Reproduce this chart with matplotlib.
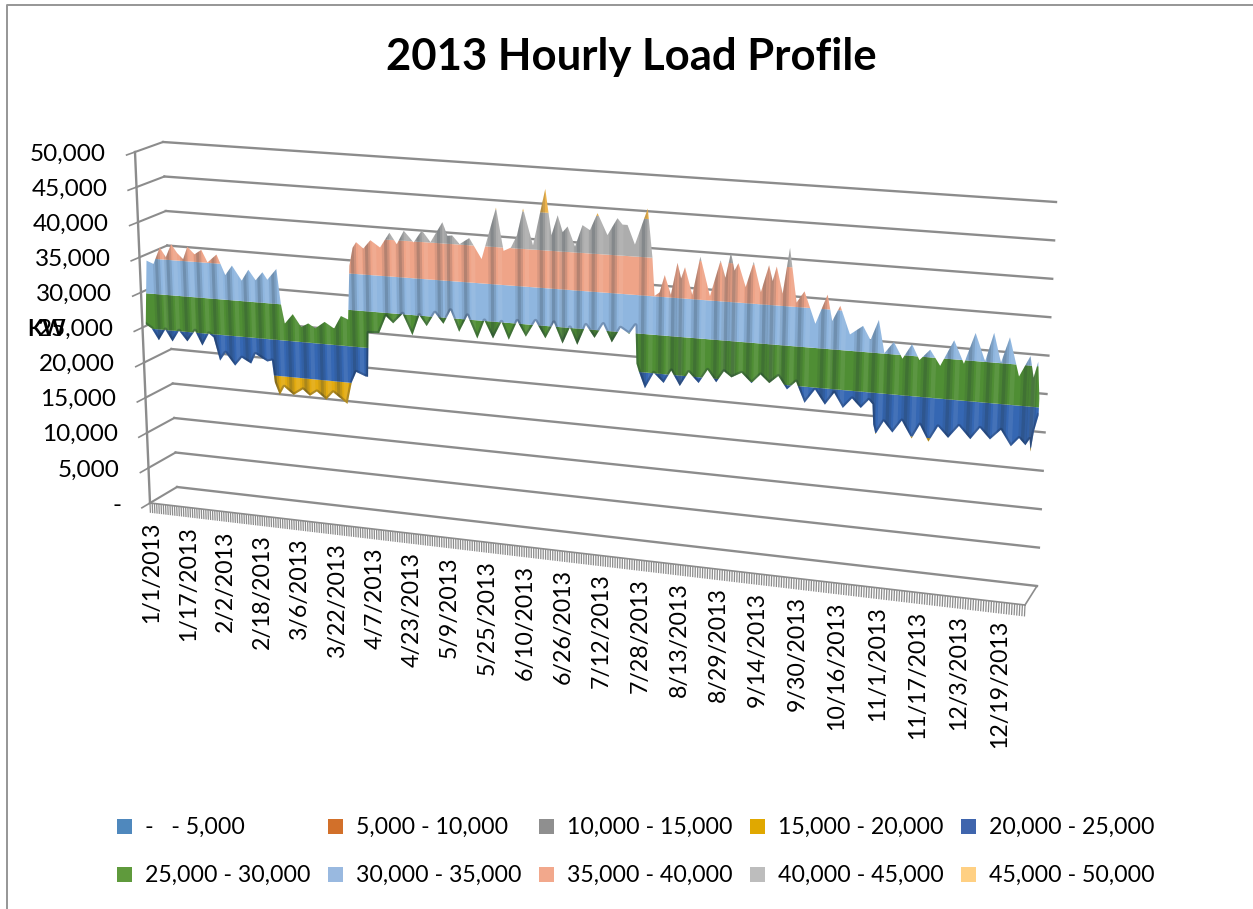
import numpy as np
import matplotlib
matplotlib.use('Agg')
import matplotlib.pyplot as plt
from matplotlib.patches import Rectangle
from matplotlib.transforms import Transform

plt.rcParams['font.family'] = ['Lato', 'DejaVu Sans']

# upper edge of the load surface, day of year / thousand kW
top_days = [3, 6, 9, 11.5, 14, 16.5, 19, 21, 24, 27, 29.5, 33.5, 37, 40, 44, 47, 50, 53, 55, 59,
            60.5, 62, 65.5, 69, 72, 75, 79, 83, 86, 89,
            90, 91.5, 93, 96, 99, 103, 107, 110, 113, 117, 120.5, 124, 129, 131, 133, 136, 140, 145,
            151, 154, 157, 159.5, 162, 166, 171, 173.5, 176, 178, 180, 183, 186, 189, 192, 196, 200,
            202, 204, 207, 212, 214, 215,
            217, 219, 221.5, 224, 225.5, 227, 230, 233, 237, 241, 243, 245, 246.5, 248, 251, 254, 257,
            260, 261.5, 263, 265.5, 268, 271, 274, 278.5, 283, 285, 288, 292, 297, 300, 303, 305.5,
            309, 312.5, 316, 319, 323, 327, 332, 336, 340, 344, 347, 350, 353, 357, 361, 362.5, 364, 365]
top_kw = [34.6, 34.2, 36.6, 35.3, 37.2, 36, 35.2, 37, 36, 36.7, 35, 36.2, 33.4, 34.8, 32.8, 34.4, 33, 34.2, 33.2, 34.8,
          30, 27.3, 28.7, 27, 27.6, 27, 28, 27.2, 29, 28.6,
          36, 38.5, 39.3, 38.5, 39.7, 38.8, 40.9, 39.4, 41.3, 39.8, 41.5, 40, 42.8, 41, 41.1, 40, 40.9, 38.2,
          45.2, 39.5, 40, 41.7, 45.3, 40.5, 48.1, 42, 44.7, 42.5, 43.3, 40.7, 43.6, 43, 45.3, 42.5, 44.8,
          44, 44, 41.5, 46.3, 40, 35,
          35.5, 37.8, 35.3, 39.5, 37.5, 39, 35.5, 40.5, 35.5, 40.2, 38, 41.3, 39, 40, 37, 40.3, 36.5,
          40, 38, 39.9, 36.5, 42.4, 35.5, 37, 33, 36.8, 33.5, 35.5, 32, 33.2, 31.5, 34.1, 30,
          31.5, 29.5, 31.4, 29.5, 30.9, 29, 32.3, 29.5, 33.4, 30, 33.6, 30, 33.2, 28.5, 31.1, 28.5, 30.5, 26]

# lower edge of the load surface
bot_days = [1.5, 4, 7, 10, 13, 16, 19.5, 23, 26, 29, 31, 33.5, 36, 40, 43, 47, 49, 54, 56, 57, 59, 61, 65, 69, 72, 75,
            79, 82, 88, 90, 92, 96, 97, 97.5, 102, 105, 108, 112, 116, 119, 122, 125.5, 129, 132, 135.5, 139,
            143, 146, 149.5, 153, 156, 159.5, 163, 167, 171, 174.5, 178, 181, 184, 187.5, 191, 194.5, 198,
            201.5, 205, 207.5, 208, 209, 211.5, 215, 219, 222, 225.5, 229, 233, 236.5, 240, 243, 246, 250,
            254, 257.5, 261, 264.5, 268, 271.5, 275, 279, 283, 286.5, 290, 293.5, 297, 300, 301.5, 302, 303,
            306, 309.5, 313, 317, 320, 323.5, 327, 331, 335, 339.5, 343, 347, 351, 355, 358, 360.5, 362,
            362.5, 363.5, 365]
bot_kw = [25.5, 25, 23.4, 25, 23.4, 25, 23.6, 25.2, 23.2, 25, 24.5, 21.3, 22.5, 20.8, 22, 21.3, 22.7, 21.8, 22, 19, 17.3,
          18.5, 17.5, 18.4, 17.6, 18.3, 17.3, 18.4, 17, 20, 21.5, 21, 21, 27, 27.1, 29.5, 28.6, 30, 27.2, 30, 28.6,
          30.5, 29.1, 31, 28.2, 30.5, 27.5, 30, 27.7, 30, 27.7, 30.3, 28.3, 30.5, 28.3, 30.5, 27.8, 30, 27.8, 30.5,
          28.9, 30.8, 28.5, 30.5, 29.8, 31, 26, 25, 22.9, 25, 23.8, 25.5, 23.6, 25.5, 24.2, 26, 24.5, 26, 25.3, 26,
          24.8, 26, 25, 26, 24.4, 25.5, 22.9, 24.7, 22.9, 24.5, 22.7, 24, 22.9, 24, 23.5, 21, 19.8, 21.5, 20.2, 21.8,
          19.7, 21.5, 19.5, 21.5, 20.2, 21.8, 20.3, 21.8, 20.5, 21.8, 19.9, 21, 20.2, 21, 19.5, 22, 24]

band_edges = [0, 5000, 10000, 15000, 20000, 25000, 30000, 35000, 40000, 45000, 50000]
band_labels = ['-   - 5,000', '5,000 - 10,000', '10,000 - 15,000', '15,000 - 20,000', '20,000 - 25,000',
               '25,000 - 30,000', '30,000 - 35,000', '35,000 - 40,000', '40,000 - 45,000', '45,000 - 50,000']
legend_colors = ['#4f88bd', '#d2702a', '#8f8f8f', '#e0a800', '#3f65ad',
                 '#5f9a3c', '#99b9e0', '#f2a88c', '#bdbdbd', '#ffd083']
surface_colors = ['#4f88bd', '#d2702a', '#8f8f8f', '#e3ab10', '#3567b3',
                  '#4f8e34', '#8fb6df', '#efa488', '#adadad', '#eeb44c']

y_ticks = [0, 5000, 10000, 15000, 20000, 25000, 30000, 35000, 40000, 45000, 50000]
y_labels = ['-', '5,000', '10,000', '15,000', '20,000', '25,000', '30,000', '35,000', '40,000', '45,000', '50,000']
x_ticks = [0, 16, 32, 48, 64, 80, 96, 112, 128, 144, 160, 176, 192, 208, 224, 240, 256, 272, 288, 304, 320, 336, 352]
x_labels = ['1/1/2013', '1/17/2013', '2/2/2013', '2/18/2013', '3/6/2013', '3/22/2013', '4/7/2013', '4/23/2013',
            '5/9/2013', '5/25/2013', '6/10/2013', '6/26/2013', '7/12/2013', '7/28/2013', '8/13/2013', '8/29/2013',
            '9/14/2013', '9/30/2013', '10/16/2013', '11/1/2013', '11/17/2013', '12/3/2013', '12/19/2013']


class Plane(Transform):
    # maps (x, kW) on one tilted face of the 3d box onto the pixel grid of the axes
    input_dims = 2
    output_dims = 2

    def __init__(self, bl, br, tl, tr, xmax=365.0, warp=1.08):
        super().__init__()
        self.c = np.array([bl, br, tl, tr], dtype=float)
        self.xmax = xmax
        self.warp = warp

    def transform_non_affine(self, xy):
        xy = np.asarray(xy, dtype=float)
        t = xy[:, 0] / self.xmax
        s = t / (t + self.warp * (1 - t))
        v = xy[:, 1] / 50000.0
        low = self.c[0] + np.outer(s, self.c[1] - self.c[0])
        high = self.c[2] + np.outer(s, self.c[3] - self.c[2])
        return low + (high - low) * v[:, None]


fig = plt.figure(figsize=(12.53, 9.09), dpi=100)
ax = fig.add_axes([0, 0, 1, 1])
ax.set_autoscale_on(False)
ax.set_xlim(0, 1253)
ax.set_ylim(909, 0)
ax.axis('off')

back = Plane((177, 487), (1037, 586), (163, 142), (1056, 202)) + ax.transData
front = Plane((150, 503), (1025, 605), (135, 152), (1045, 195)) + ax.transData
surf = Plane((150, 503), (1030, 612), (135, 152), (1048, 202)) + ax.transData
left = Plane((150, 503), (177, 487), (135, 152), (163, 142), xmax=1.0, warp=1.0) + ax.transData
right = Plane((1025, 605), (1037, 586), (1045, 195), (1056, 202), xmax=1.0, warp=1.0) + ax.transData

grid = '#8c8c8c'
# chart area frame, only top and left are inside the crop
ax.plot([6.5, 6.5, 1253], [909, 4.5, 4.5], color='#969696', lw=1.4)

for v in y_ticks:
    ax.plot([0, 365], [v, v], transform=back, color=grid, lw=1.7, zorder=1)
    ax.plot([0, 1], [v, v], transform=left, color=grid, lw=1.5, zorder=1)
    ax.plot([-0.3, 0], [v, v], transform=left, color=grid, lw=1.2, zorder=1)
ax.plot([0, 0], [0, 50000], transform=left, color=grid, lw=1.7, zorder=1)
ax.plot([0, 1], [0, 0], transform=right, color=grid, lw=1.2, zorder=1)
ax.plot([0, 365], [0, 0], transform=front, color=grid, lw=1.2, zorder=2)
ax.vlines(np.arange(0, 366), -1400, 0, transform=front, color=grid, lw=0.9, zorder=2)

# load surface: one colour per band, cut to the outline
top_x = np.array(top_days)
top_y = np.array(top_kw) * 1000
bot_x = np.array(bot_days)
bot_y = np.array(bot_kw) * 1000
outline = ax.fill(np.r_[top_x, bot_x[::-1]], np.r_[top_y, bot_y[::-1]], transform=surf,
                  facecolor='none', edgecolor='none', zorder=3)[0]
for i in range(len(band_labels)):
    c = ax.fill_between([0, 365], band_edges[i], band_edges[i + 1], transform=surf,
                        color=surface_colors[i], lw=0, zorder=3)
    c.set_clip_path(outline)

# dark flank to the left of every ridge, pale one to the right
peaks = [i for i in range(1, len(top_x) - 1) if top_y[i] > top_y[i - 1] and top_y[i] > top_y[i + 1]]
for i in peaks:
    d = top_x[i]
    for d0, d1, col, a in [(d - 3.5, d - 2.5, '#1c2a33', 0.1), (d - 2.5, d - 1.2, '#1c2a33', 0.28),
                           (d - 1.2, d - 0.3, '#1c2a33', 0.15), (d + 0.5, d + 2.2, 'white', 0.08)]:
        c = ax.fill_between([d0, d1], 0, 50000, transform=surf, color=col, alpha=a, lw=0, zorder=4)
        c.set_clip_path(outline)
low_edge = ax.plot(bot_x, bot_y, transform=surf, color='#101c38', alpha=0.25, lw=3, zorder=4)[0]
low_edge.set_clip_path(outline)

for v, lab in zip(y_ticks, y_labels):
    ax.annotate(lab, xy=(0, v), xycoords=left, xytext=(-29, -2), textcoords='offset pixels',
                ha='right', va='center', fontsize=17.5, color='black', zorder=6)
for d, lab in zip(x_ticks, x_labels):
    ax.annotate(lab, xy=(d, 0), xycoords=front, xytext=(2 + 6 * min(d / 100, 1), -19), textcoords='offset pixels',
                rotation=90, ha='center', va='top', fontsize=16.7, color='black', zorder=6)

ax.text(631, 57, '2013 Hourly Load Profile', ha='center', va='center', fontsize=31.4, fontweight='bold')
ax.text(47, 329, 'KW', ha='center', va='center', fontsize=16, fontweight='bold', zorder=7)

# legend, five entries per row
leg_x = [117, 328, 539, 750, 961]
leg_y = [826, 874]
for i, lab in enumerate(band_labels):
    x = leg_x[i % 5]
    y = leg_y[i // 5]
    ax.add_patch(Rectangle((x, y - 7.5), 15, 15, facecolor=legend_colors[i], edgecolor='none'))
    ax.text(x + 28, y + 1, lab, ha='left', va='center', fontsize=16.7)

fig.savefig('out.png', dpi=100)
